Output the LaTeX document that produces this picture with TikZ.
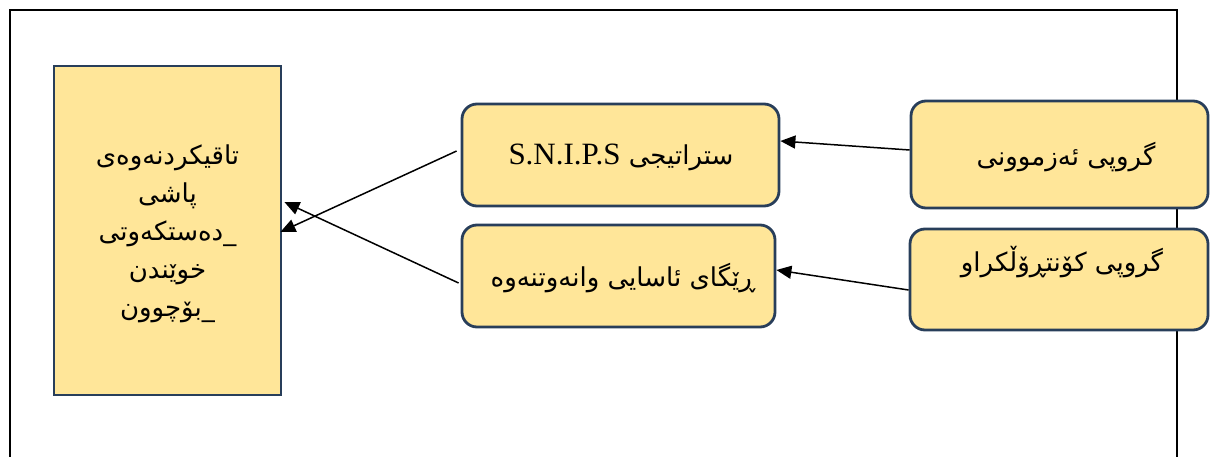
\documentclass[tikz,border=0pt]{standalone}
\usepackage{fontspec}
\setmainfont{Liberation Serif}
\newfontfamily\arabicfont[Script=Arabic]{DejaVu Sans}
\TeXXeTstate=1
\usetikzlibrary{arrows.meta}
\definecolor{boxfill}{RGB}{255,230,153}
\definecolor{boxline}{RGB}{40,62,90}
\tikzset{
  boxbase/.style={draw=boxline, fill=boxfill, line width=2.8pt, inner sep=0pt},
  roundbox/.style={boxbase, rounded corners=15pt},
  artext/.style={font=\arabicfont\fontsize{26}{38}\selectfont, inner sep=0pt},
  conn/.style={line width=1.5pt, -{Triangle[length=15pt,width=13pt]}}
}
\begin{document}
\begin{tikzpicture}[x=1pt,y=-1pt]
\useasboundingbox (0,0) rectangle (1210,457);
\begin{scope}
\clip (0,0) rectangle (1210,457);
\draw[line width=2pt] (10,480) -- (10,10) -- (1177,10) -- (1177,480);
\end{scope}
% left box
\node[boxbase, minimum width=227pt, minimum height=329pt] (l) at (167.5,230.5) {};
\node[artext, align=center] (ltext) at (167.5,234)
  {\beginR تاقیکردنەوەی\endR\\ \beginR پاشی\endR\\ \beginR \_دەستکەوتی\endR\\ \beginR خوێندن\endR\\ \beginR \_بۆچوون\endR};
% middle boxes
\node[roundbox, minimum width=317pt, minimum height=102pt] (s) at (620.5,155) {};
\node[artext] (stext) at (621,157) {\beginR ستراتیجی \beginL{\rmfamily\fontsize{31}{36}\selectfont S.N.I.P.S}\endL\endR};
\node[roundbox, minimum width=313pt, minimum height=102pt] (r) at (618.5,276) {};
\node[artext] (rtext) at (623,278) {\beginR ڕێگای ئاسایی وانەوتنەوە\endR};
% right boxes
\node[roundbox, minimum width=297pt, minimum height=107pt] (g1) at (1059.5,154.5) {};
\node[artext] (g1text) at (1066,157) {\beginR گروپی ئەزموونی\endR};
\node[roundbox, minimum width=298pt, minimum height=101pt] (g2) at (1059,279.5) {};
\node[artext] (g2text) at (1062,262) {\beginR گروپی کۆنتڕۆڵکراو\endR};
% connectors
\draw[conn] ([yshift=4.5pt]g1.west) -- ([yshift=14pt]s.east);
\draw[conn] ([yshift=-10.5pt]g2.west) -- ([yshift=6pt]r.east);
\draw[conn] ([xshift=-4pt,yshift=4pt]s.west) -- ([yshift=-1.5pt,xshift=-2pt]l.east);
\draw[conn] ([xshift=-2pt,yshift=-7pt]r.west) -- ([yshift=28.5pt,xshift=2pt]l.east);
\end{tikzpicture}
\end{document}
